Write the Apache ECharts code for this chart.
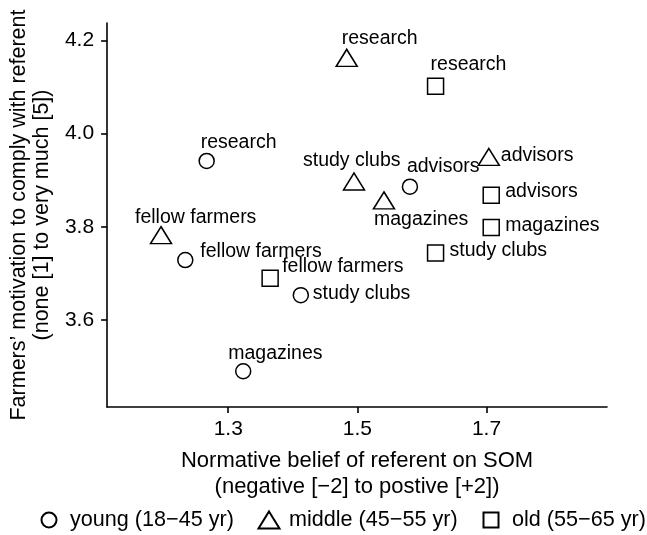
<!DOCTYPE html>
<html>
<head>
<meta charset="utf-8">
<script src="https://cdn.jsdelivr.net/npm/echarts@6/dist/echarts.min.js"></script>
<style>
html,body{margin:0;padding:0;background:#fff;}
#chart{width:647px;height:535px;}
</style>
</head>
<body>
<div id="chart"></div>
<script>
// ---- data ----
const categories = ['research', 'fellow farmers', 'study clubs', 'magazines', 'advisors'];
const youngX  = [1.2666, 1.2335, 1.4124, 1.3232, 1.5814];
const youngY  = [3.9416, 3.7289, 3.6537, 3.4904, 3.8864];
const middleX = [1.4835, 1.1959, 1.4948, 1.5412, 1.7036];
const middleY = [4.1562, 3.7759, 3.8911, 3.8505, 3.9437];
const oldX    = [1.6211, 1.3649, 1.6211, 1.7073, 1.7073];
const oldY    = [4.1020, 3.6902, 3.7439, 3.7987, 3.8681];
const seriesNames = ['young (18\u221245 yr)', 'middle (45\u221255 yr)', 'old (55\u221265 yr)'];
const xTicks = [1.3, 1.5, 1.7];
const yTicks = [3.6, 3.8, 4.0, 4.2];

// ---- label placement (style, pixels relative to marker) ----
const youngLab  = [[-6, -18], [15, -8], [12, -2], [-15, -18], [-3, -20]];
const middleLab = [[-5, -19], [-26, -18], [-51, -21], [-10, 19], [12, -1.5]];
const oldLab    = [[-5, -22], [12, -12], [14, -2.5], [14, -2], [14, -3.7]];

const FONT = 'Liberation Sans, Arial, Helvetica, sans-serif';

function build(xs, ys, offs) {
  return xs.map((x, i) => ({
    value: [x, ys[i]],
    name: categories[i],
    label: { offset: offs[i] }
  }));
}

const markerStyle = { color: 'rgba(255,255,255,0)', borderColor: '#000', borderWidth: 1.5, opacity: 1 };
const labelBase = {
  show: true, position: 'inside', align: 'left', verticalAlign: 'middle',
  formatter: p => p.name, color: '#000', opacity: 1, textBorderWidth: 0,
  fontSize: 19.5, fontFamily: FONT
};

function legendFor(i, left, w, h, padLeft) {
  return {
    left: left, top: 509, orient: 'horizontal', padding: 0,
    itemWidth: w, itemHeight: h, itemGap: 0,
    textStyle: { fontSize: 21.6, color: '#000', fontFamily: FONT, padding: [0, 0, 0, padLeft] },
    data: [seriesNames[i]]
  };
}

const chart = echarts.init(document.getElementById('chart'), null, { renderer: 'canvas' });
chart.setOption({
  animation: false,
  backgroundColor: '#fff',
  textStyle: { fontFamily: FONT, color: '#000' },
  grid: { left: 106, top: 23, right: 40, bottom: 128, containLabel: false },
  xAxis: {
    type: 'value', min: 1.1124, max: 1.8866,
    name: 'Normative belief of referent on SOM\n(negative [\u22122] to postive [+2])',
    nameLocation: 'middle', nameGap: 41,
    nameTextStyle: { fontSize: 22, lineHeight: 26, color: '#000', fontFamily: FONT },
    axisLine: { show: true, onZero: false, lineStyle: { color: '#000', width: 1.6 } },
    axisTick: { show: true, length: 6, inside: false, customValues: xTicks, lineStyle: { color: '#000', width: 1.6 } },
    axisLabel: { customValues: xTicks, margin: 12, fontSize: 21, color: '#000', fontFamily: FONT,
                 formatter: v => Number(v).toFixed(1) },
    splitLine: { show: false }
  },
  yAxis: {
    type: 'value', min: 3.4138, max: 4.2374,
    name: 'Farmers\u2019 motivation to comply with referent\n(none [1] to very much [5])',
    nameLocation: 'middle', nameGap: 52,
    nameTextStyle: { fontSize: 21.5, lineHeight: 23, color: '#000', fontFamily: FONT },
    axisLine: { show: true, onZero: false, lineStyle: { color: '#000', width: 1.6 } },
    axisTick: { show: true, length: 6, inside: false, customValues: yTicks, lineStyle: { color: '#000', width: 1.6 } },
    axisLabel: { customValues: yTicks, margin: 13, fontSize: 21, color: '#000', fontFamily: FONT,
                 formatter: v => Number(v).toFixed(1) },
    splitLine: { show: false }
  },
  legend: [
    legendFor(0, 40.5, 15, 15, 8.5),
    legendFor(1, 257.5, 21, 17, 4.5),
    legendFor(2, 482.5, 15, 15, 8.5)
  ],
  series: [
    { name: seriesNames[0], type: 'scatter', symbol: 'circle', symbolSize: 15,
      itemStyle: markerStyle, label: labelBase, emphasis: { disabled: true },
      data: build(youngX, youngY, youngLab) },
    { name: seriesNames[1], type: 'scatter', symbol: 'triangle', symbolSize: [21, 17], symbolOffset: [0, -3],
      itemStyle: markerStyle, label: labelBase, emphasis: { disabled: true },
      data: build(middleX, middleY, middleLab) },
    { name: seriesNames[2], type: 'scatter', symbol: 'rect', symbolSize: 16,
      itemStyle: markerStyle, label: labelBase, emphasis: { disabled: true },
      data: build(oldX, oldY, oldLab) }
  ]
});
</script>
</body>
</html>
